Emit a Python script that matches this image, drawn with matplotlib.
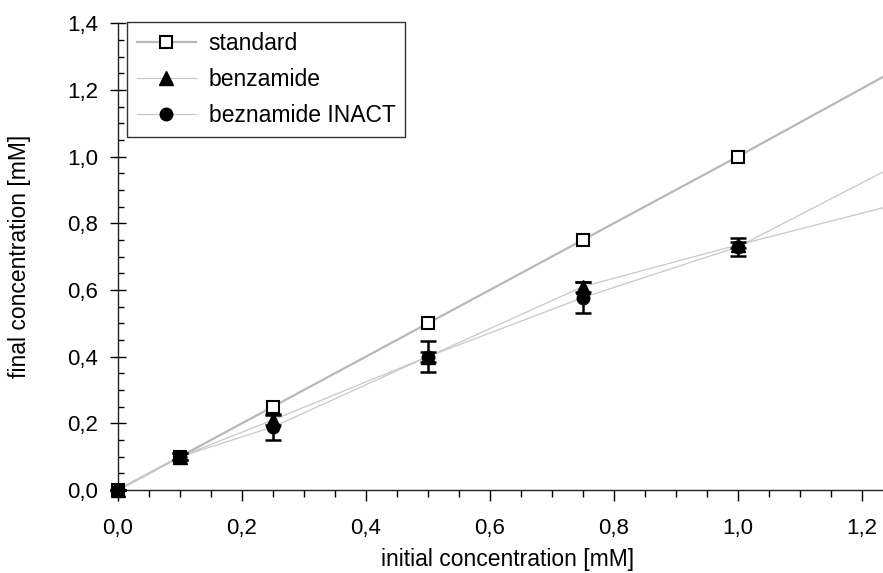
import numpy as np
import matplotlib
matplotlib.use('Agg')
import matplotlib.pyplot as plt
from matplotlib.ticker import FuncFormatter, MultipleLocator

plt.rcParams['font.family'] = ['Liberation Sans', 'DejaVu Sans']

# measured points
x = [0.0, 0.1, 0.25, 0.5, 0.75, 1.0]
standard = [0.0, 0.1, 0.25, 0.5, 0.75, 1.0]
benzamide = [0.0, 0.1, 0.21, 0.40, 0.61, 0.735]
benzamide_err = [0.0, 0.01, 0.015, 0.015, 0.015, 0.01]
inact = [0.0, 0.1, 0.189, 0.40, 0.577, 0.729]
inact_err = [0.0, 0.01, 0.039, 0.047, 0.046, 0.028]

# the connecting lines run on to a point past the axis end
x_end = 1.25
standard_end = 1.255
benzamide_end = 0.854
inact_end = 0.969

fig = plt.figure(figsize=(8.83, 5.73), dpi=100)
ax = fig.add_axes([118 / 883, 1 - 490 / 573, 1 - 118 / 883, (490 - 23.3) / 573])

std_grey = '#b8b8b8'
thin_grey = '#c8c8c8'
ax.plot(x + [x_end], standard + [standard_end], color=std_grey, lw=1.6, zorder=2)
ax.plot(x + [x_end], benzamide + [benzamide_end], color=thin_grey, lw=0.9, zorder=2)
ax.plot(x + [x_end], inact + [inact_end], color=thin_grey, lw=0.9, zorder=2)

ax.plot(x, standard, ls='none', marker='s', ms=8.8, mfc='white', mec='black', mew=1.5,
        zorder=3, clip_on=False)

ax.errorbar(x, benzamide, yerr=benzamide_err, fmt='none', ecolor='black',
            elinewidth=1.8, capsize=5.8, capthick=1.8, zorder=4, clip_on=False)
ax.errorbar(x, inact, yerr=inact_err, fmt='none', ecolor='black',
            elinewidth=1.8, capsize=5.8, capthick=1.8, zorder=4, clip_on=False)

ax.plot(x, benzamide, ls='none', marker='^', ms=9.5, color='black', zorder=5, clip_on=False)
ax.plot(x, inact, ls='none', marker='o', ms=9, color='black', zorder=5, clip_on=False)

# legend handles
h1, = ax.plot([], [], color=std_grey, lw=1.6, marker='s', ms=8.8, mfc='white', mec='black', mew=1.5)
h2, = ax.plot([], [], color=thin_grey, lw=0.9, marker='^', ms=9.5, mfc='black', mec='black')
h3, = ax.plot([], [], color=thin_grey, lw=0.9, marker='o', ms=9, mfc='black', mec='black')
leg = ax.legend([h1, h2, h3], ['standard', 'benzamide', 'beznamide INACT'],
                loc='upper left', bbox_to_anchor=(9 / 765, 1.003), fontsize=16.5,
                fancybox=False, framealpha=1, edgecolor='#333333', handlelength=2.6,
                borderpad=0.42, labelspacing=0.58, handletextpad=0.55, borderaxespad=0)
leg.get_frame().set_linewidth(1.0)

ax.set_xlim(0, (883 - 118) / 619.7)
ax.set_ylim(0, 1.4)

for side in ['top', 'right']:
    ax.spines[side].set_visible(False)
for side in ['left', 'bottom']:
    ax.spines[side].set_linewidth(1.0)
    ax.spines[side].set_color('#222222')

comma = FuncFormatter(lambda v, p: ('%.1f' % v).replace('.', ','))
ax.xaxis.set_major_locator(MultipleLocator(0.2))
ax.xaxis.set_minor_locator(MultipleLocator(0.05))
ax.yaxis.set_major_locator(MultipleLocator(0.2))
ax.yaxis.set_minor_locator(MultipleLocator(0.05))
ax.xaxis.set_major_formatter(comma)
ax.yaxis.set_major_formatter(comma)
ax.tick_params(axis='x', which='major', direction='out', length=8, width=1, labelsize=16, pad=12)
ax.tick_params(axis='x', which='minor', direction='out', length=5, width=1)
ax.tick_params(axis='y', which='major', direction='inout', length=11, width=1, labelsize=16, pad=9)
ax.tick_params(axis='y', which='minor', direction='in', length=4, width=1)

ax.set_xlabel('initial concentration [mM]', fontsize=16.5)
ax.set_ylabel('final concentration [mM]', fontsize=16.5)
ax.xaxis.set_label_coords((508 - 118) / 765, (490 - 548) / 466.7)
ax.yaxis.set_label_coords((31 - 118) / 765, 0.5)

fig.savefig('out.png', dpi=100)
